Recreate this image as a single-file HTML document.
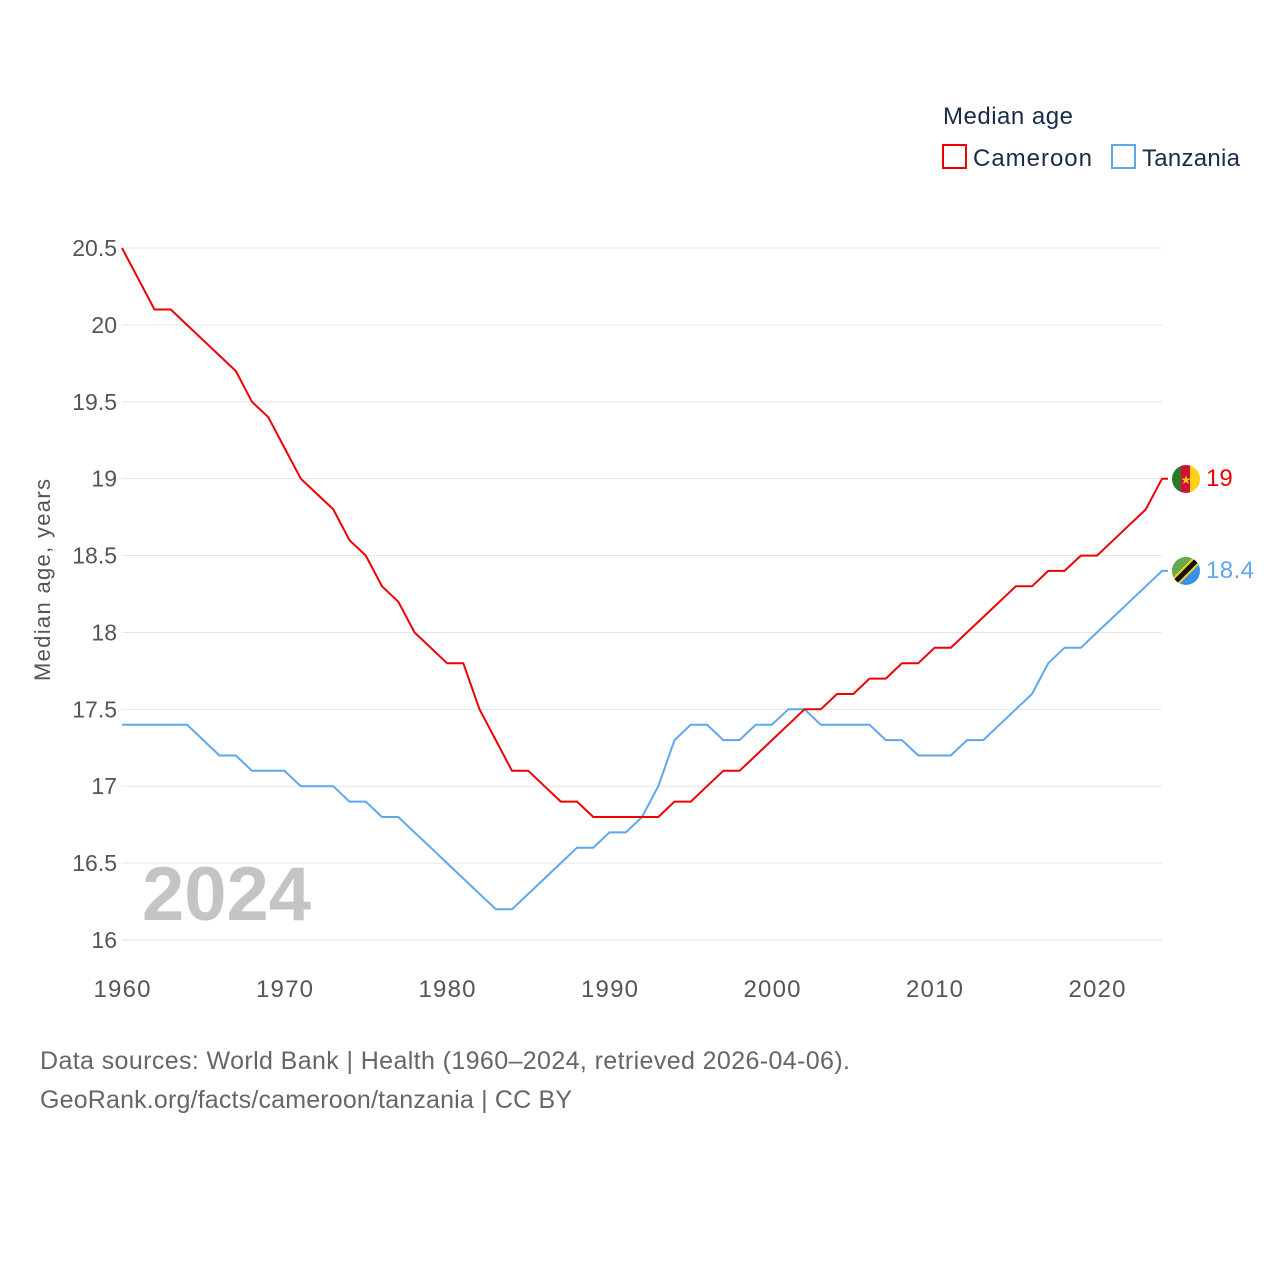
<!DOCTYPE html>
<html><head><meta charset="utf-8"><style>
html,body{margin:0;padding:0;background:#fff;}
svg{display:block;font-family:"Liberation Sans",sans-serif;}
</style></head><body>
<svg id="chart" width="1280" height="1280" viewBox="0 0 1280 1280">
  <g id="grid"></g>
  <g id="yticks"></g>
  <g id="xticks"></g>
  <text x="50" y="580" transform="rotate(-90 50 580)" text-anchor="middle" font-size="22" fill="#555" textLength="202">Median age, years</text>
  <text x="142" y="920" font-size="76" font-weight="bold" fill="#c4c4c4">2024</text>
  <g id="series"></g>
  <g>
    <text x="943" y="124" font-size="24" fill="#1a2b4a" textLength="130">Median age</text>
    <g>
      <rect x="943" y="145" width="23" height="23" fill="none" stroke="#e00" stroke-width="2"/>
      <text x="973" y="166" font-size="24" fill="#1a2b4a" textLength="119">Cameroon</text>
    </g>
    <g>
      <rect x="1112" y="145" width="23" height="23" fill="none" stroke="#5ea7ef" stroke-width="2"/>
      <text x="1142" y="166" font-size="24" fill="#1a2b4a" textLength="98">Tanzania</text>
    </g>
  </g>
  <g>
    <clipPath id="c1"><circle cx="1186" cy="479" r="14"/></clipPath>
    <g clip-path="url(#c1)"><rect x="1172" y="465" width="10" height="28" fill="#2a7a2a"/><rect x="1181" y="465" width="10" height="28" fill="#d21034"/><rect x="1190" y="465" width="10" height="28" fill="#fcd116"/></g>
    <text x="1186" y="484" font-size="12" text-anchor="middle" fill="#fcd116">★</text>
  </g>
  <text x="1206" y="486" font-size="24" fill="#e00">19</text>
  <g>
    <clipPath id="c2"><circle cx="1186" cy="571" r="14"/></clipPath>
    <g clip-path="url(#c2)"><rect x="1172" y="557" width="28" height="28" fill="#3a8fe8"/><polygon points="1172,557 1200,557 1172,585" fill="#6aa84f"/><line x1="1172" y1="585" x2="1200" y2="557" stroke="#fcd116" stroke-width="9"/><line x1="1172" y1="585" x2="1200" y2="557" stroke="#111" stroke-width="5"/></g>
  </g>
  <text x="1206" y="578" font-size="24" fill="#5ea7ef" textLength="48">18.4</text>
  <text x="40" y="1069" font-size="25" fill="#666" textLength="810">Data sources: World Bank | Health (1960–2024, retrieved 2026-04-06).</text>
  <text x="40" y="1108" font-size="25" fill="#666" textLength="532">GeoRank.org/facts/cameroon/tanzania | CC BY</text>
</svg>
<script>
const years = [];
for (let y = 1960; y <= 2024; y++) years.push(y);
const cameroon = [20.5,20.3,20.1,20.1,20.0,19.9,19.8,19.7,19.5,19.4,19.2,19.0,18.9,18.8,18.6,18.5,18.3,18.2,18.0,17.9,17.8,17.8,17.5,17.3,17.1,17.1,17.0,16.9,16.9,16.8,16.8,16.8,16.8,16.8,16.9,16.9,17.0,17.1,17.1,17.2,17.3,17.4,17.5,17.5,17.6,17.6,17.7,17.7,17.8,17.8,17.9,17.9,18.0,18.1,18.2,18.3,18.3,18.4,18.4,18.5,18.5,18.6,18.7,18.8,19.0];
const tanzania = [17.4,17.4,17.4,17.4,17.4,17.3,17.2,17.2,17.1,17.1,17.1,17.0,17.0,17.0,16.9,16.9,16.8,16.8,16.7,16.6,16.5,16.4,16.3,16.2,16.2,16.3,16.4,16.5,16.6,16.6,16.7,16.7,16.8,17.0,17.3,17.4,17.4,17.3,17.3,17.4,17.4,17.5,17.5,17.4,17.4,17.4,17.4,17.3,17.3,17.2,17.2,17.2,17.3,17.3,17.4,17.5,17.6,17.8,17.9,17.9,18.0,18.1,18.2,18.3,18.4];
const yTicks = [16,16.5,17,17.5,18,18.5,19,19.5,20,20.5];
const xTicks = [1960,1970,1980,1990,2000,2010,2020];
const NS = "http://www.w3.org/2000/svg";
const xs = v => 122 + (v - 1960) * 16.25;
const ys = v => 940 - (v - 16) * (692 / 4.5);
function mk(tag, attrs, parent) { const e = document.createElementNS(NS, tag); for (const k in attrs) e.setAttribute(k, attrs[k]); parent.appendChild(e); return e; }
const grid = document.getElementById('grid'), yt = document.getElementById('yticks'), xt = document.getElementById('xticks'), ser = document.getElementById('series');
yTicks.forEach(v => {
  const l = mk('line', {x1:122, x2:1162, y1:ys(v), y2:ys(v), stroke:'#e6e6e6', 'stroke-width':1}, grid);
  
  
  const t = mk('text', {x:117, y:ys(v)+8, 'text-anchor':'end', 'font-size':23, fill:'#555'}, yt);
  t.textContent = String(v);
  
  
});
xTicks.forEach(v => {
  const t = mk('text', {x:xs(v), y:997, 'text-anchor':'middle', 'font-size':24, fill:'#555', textLength:57}, xt);
  t.textContent = String(v);
  
  
});
function line(data, color, name) {
  const d = data.map((v, i) => (i ? 'L' : 'M') + xs(years[i]).toFixed(1) + ',' + ys(v).toFixed(1)).join('') + 'h6';
  const p = mk('path', {d, fill:'none', stroke:color, 'stroke-width':2, 'stroke-linejoin':'round'}, ser);
  
  
}
line(tanzania, '#5ea7ef', 'line-tanzania');
line(cameroon, '#ee0000', 'line-cameroon');
</script>
</body></html>
